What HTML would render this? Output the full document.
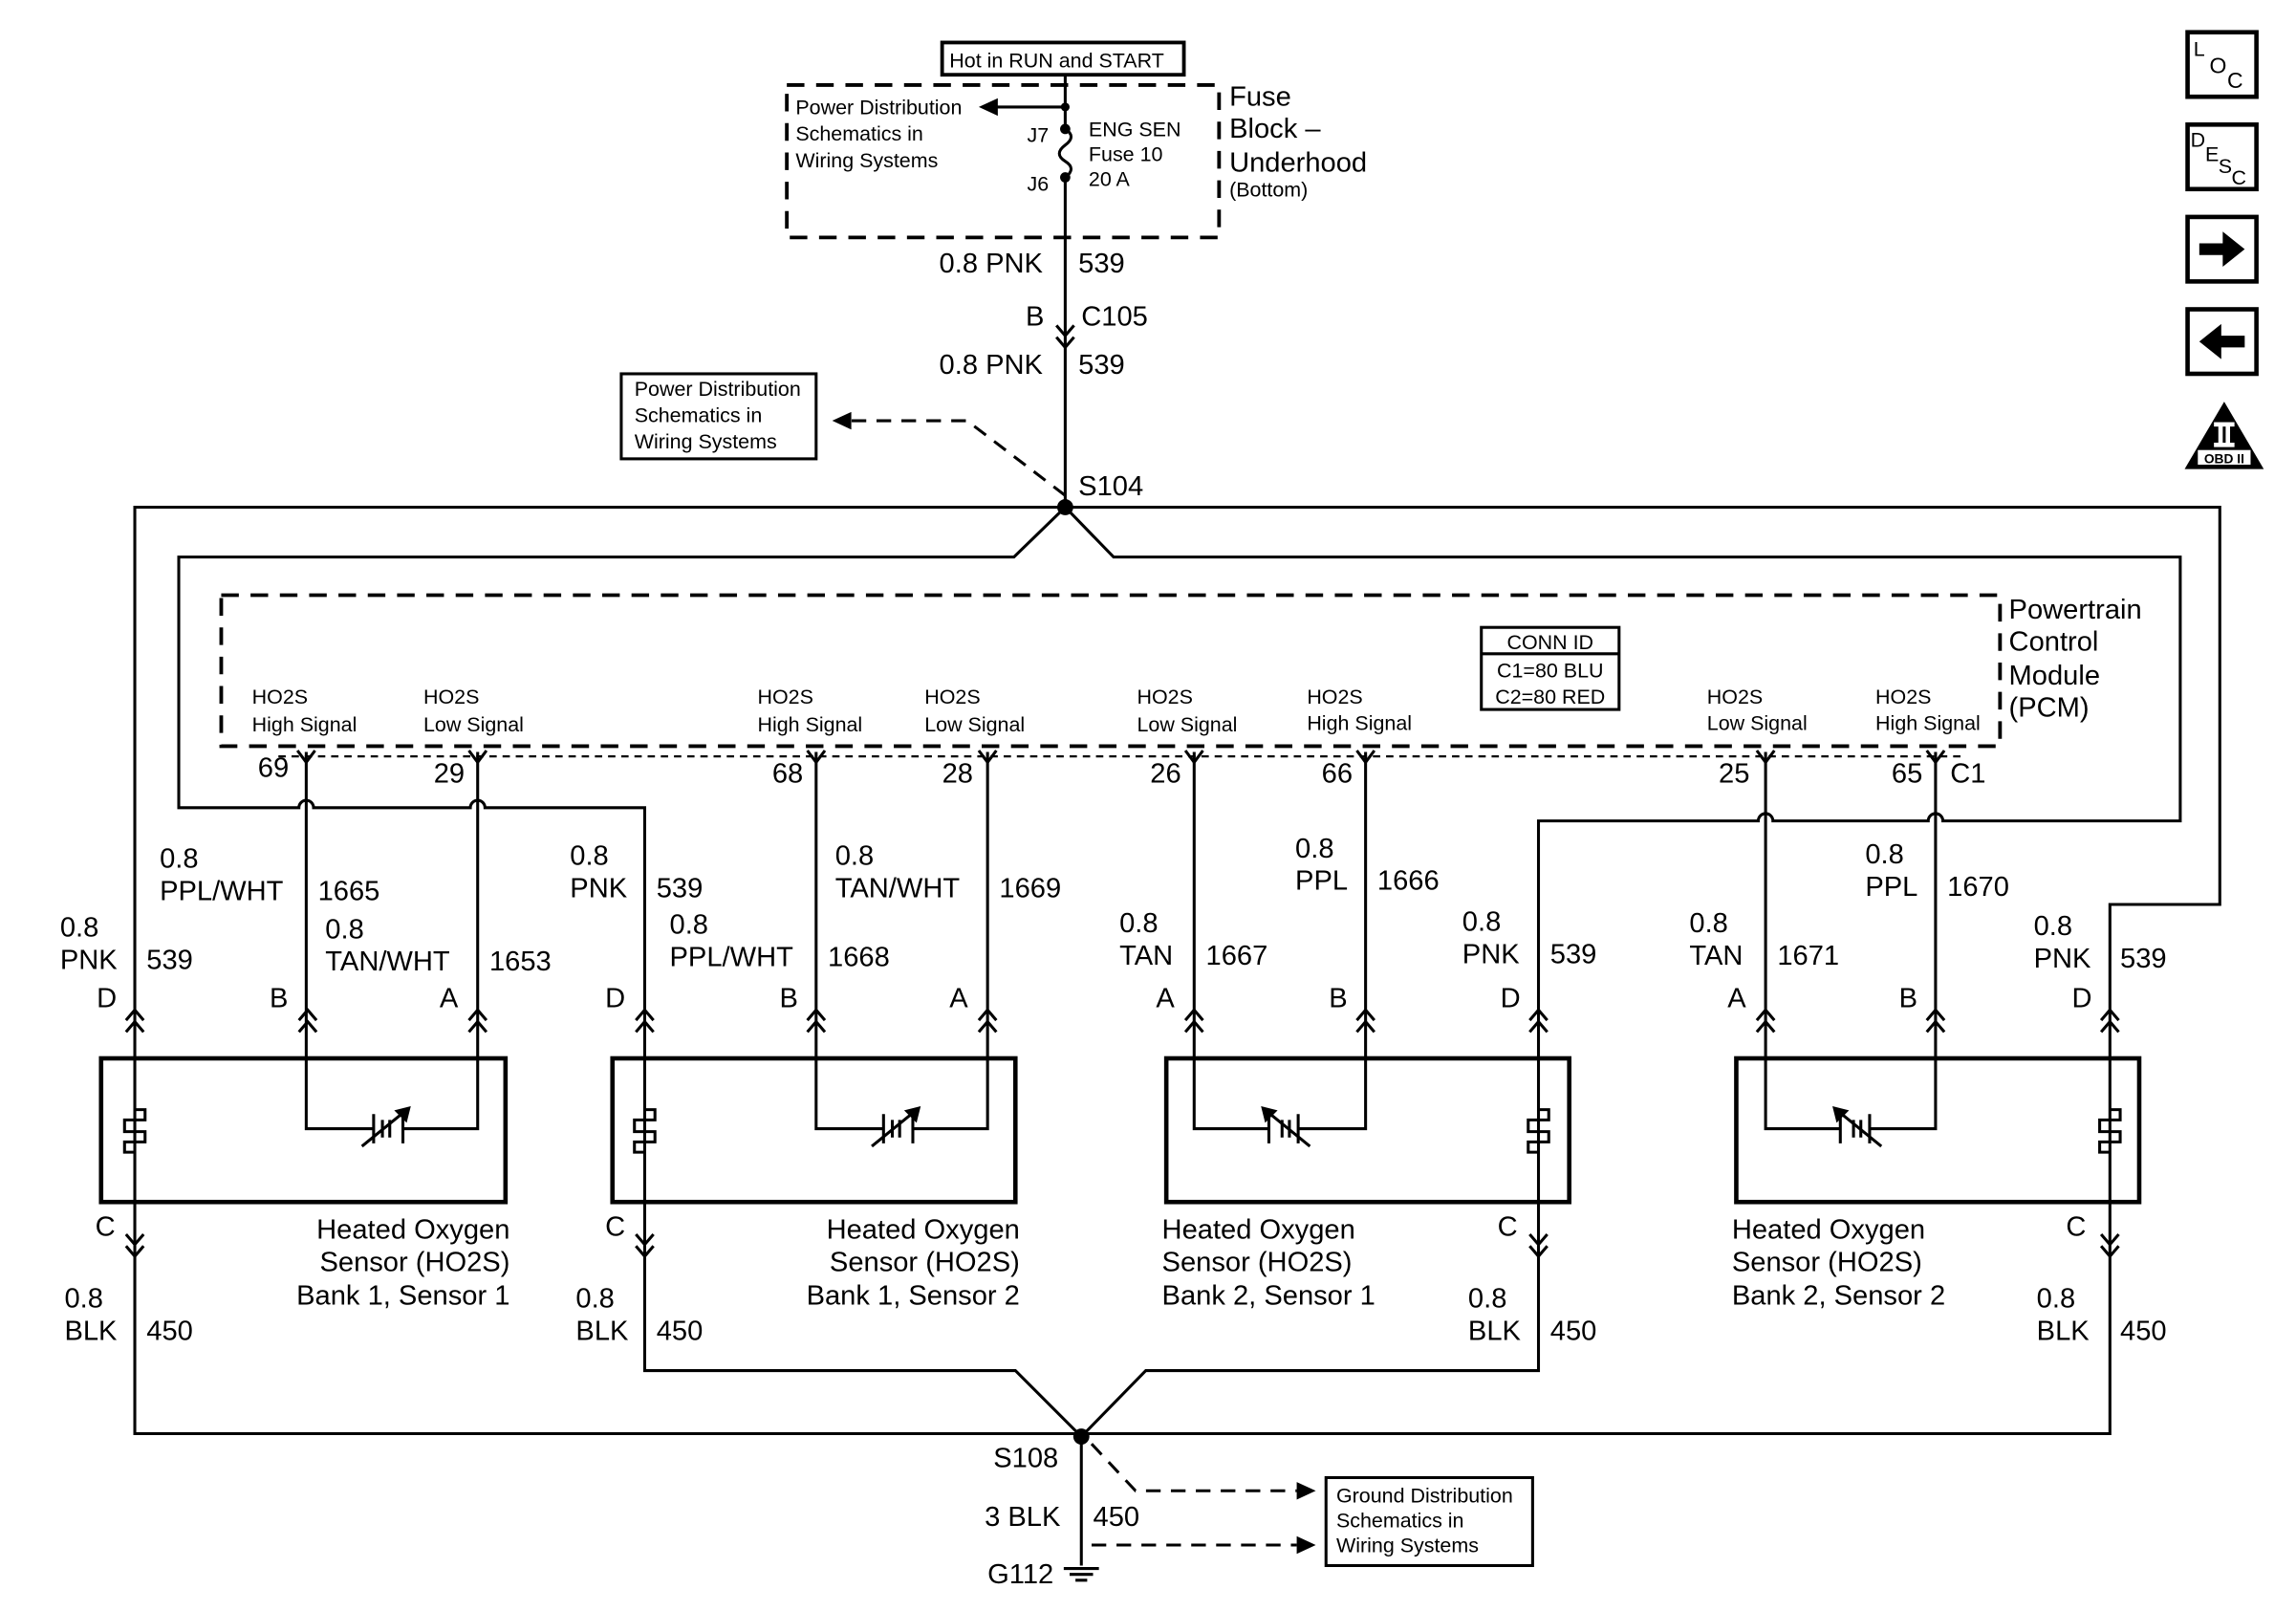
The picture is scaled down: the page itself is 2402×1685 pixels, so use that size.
<!DOCTYPE html>
<html><head><meta charset="utf-8"><style>
html,body{margin:0;padding:0;background:#fff}
svg{display:block}
text{font-family:"Liberation Sans",Arial,sans-serif;fill:#000}
.b{font-size:19px}.s{font-size:14px}.m{font-size:15px}
</style></head><body>
<svg width="2402" height="1685" viewBox="0 0 1567 1099" preserveAspectRatio="none" xmlns="http://www.w3.org/2000/svg">
<g fill="none" stroke="#000" stroke-width="2">
<rect x="643" y="29" width="165" height="22" stroke-width="2.5"/>
<rect x="537" y="58" width="295" height="104" stroke-dasharray="12,8" stroke-width="2.5"/>
<path d="M727 51 V88 M727 121 V346"/>
<path d="M727 73 H680"/>
<path d="M727 338 L660 287 H578" stroke-dasharray="10,7"/>
<rect x="424" y="255" width="133" height="58"/>
<path d="M721 222 L727 229 L733 222 M721 230 L727 237 L733 230"/>
<path d="M727 346 H92 V848 M727 346 H1515 V617 H1440 V848"/>
<path d="M727 346 L692 380 H122 V551 H204 a5 5 0 0 1 10 0 H321 a5 5 0 0 1 10 0 H440 V848"/>
<path d="M727 346 L760 380 H1488 V560 H1326 a5 5 0 0 0 -10 0 H1210 a5 5 0 0 0 -10 0 H1050 V848"/>
<rect x="151" y="406" width="1214" height="103" stroke-dasharray="12,8" stroke-width="2.5"/>
<path d="M190 516 H1340" stroke-dasharray="5,4" stroke-width="1.5"/>
<rect x="1011" y="428" width="94" height="56"/>
<path d="M1011 446 H1105"/>
<path d="M209 513 V770 H255 M275 770 H326 V513"/>
<path d="M557 513 V770 H603 M623 770 H674 V513"/>
<path d="M815 513 V770 H866 M886 770 H932 V513"/>
<path d="M1205 513 V770 H1256 M1276 770 H1321 V513"/>
<path d="M203 512 L209 520 L215 512 M320 512 L326 520 L332 512 M551 512 L557 520 L563 512 M668 512 L674 520 L680 512 M809 512 L815 520 L821 512 M926 512 L932 520 L938 512 M1199 512 L1205 520 L1211 512 M1315 512 L1321 520 L1327 512"/>
<rect x="69" y="722" width="276" height="98" stroke-width="3"/>
<rect x="418" y="722" width="275" height="98" stroke-width="3"/>
<rect x="796" y="722" width="275" height="98" stroke-width="3"/>
<rect x="1185" y="722" width="275" height="98" stroke-width="3"/>
<path d="M92 848 V978 H1440 V848"/>
<path d="M440 848 V935 H693 L738 980 L782 935 H1050 V848"/>
<path d="M738 980 V1068"/>
<path d="M726 1070 H750 M730 1074 H746 M734 1078 H742"/>
<path d="M745 985 L775 1017 H885 M745 1054 H885" stroke-dasharray="10,7"/>
<rect x="905" y="1008" width="141" height="60"/>
<rect x="1493" y="22" width="47" height="44" stroke-width="3"/>
<rect x="1493" y="85" width="47" height="44" stroke-width="3"/>
<rect x="1493" y="148" width="47" height="44" stroke-width="3"/>
<rect x="1493" y="211" width="47" height="44" stroke-width="3"/>
</g>
<path d="M727 88 q8 5 0 11 q-8 6 0 11 q8 5 0 11" fill="none" stroke="#000" stroke-width="2"/>
<g fill="#000">
<circle cx="727" cy="73" r="3"/><circle cx="727" cy="88" r="3.5"/><circle cx="727" cy="121" r="3.5"/>
<circle cx="727" cy="346" r="5.5"/><circle cx="738" cy="980" r="5.5"/>
<path d="M668 73 L681 67 L681 79 Z"/>
<path d="M568 287 L581 281 L581 293 Z"/>
<path d="M898 1017 L885 1011 L885 1023 Z M898 1054 L885 1048 L885 1060 Z"/>
<path d="M1501 166 H1517 V158 L1532 170 L1517 182 V174 H1501 Z"/>
<path d="M1532 229 H1516 V221 L1501 233 L1516 245 V237 H1532 Z"/>
<path d="M1518 274 L1545 320 H1491 Z"/>
</g>
<g fill="#fff"><rect x="1511" y="288" width="14" height="3"/><rect x="1511" y="302" width="14" height="3"/><rect x="1514" y="290" width="3" height="13"/><rect x="1519" y="290" width="3" height="13"/><rect x="1500" y="307" width="36" height="10"/></g>
<text x="1518" y="316" font-size="9" text-anchor="middle" font-weight="bold">OBD II</text>
<g fill="none" stroke="#000" stroke-width="2">
<path id="u" d="M-6 696 L0 689 L6 696 M-6 704 L0 697 L6 704" transform="translate(92,0)"/>
<use href="#u" transform="translate(118,0)"/><use href="#u" transform="translate(234,0)"/>
<use href="#u" transform="translate(348,0)"/><use href="#u" transform="translate(465,0)"/><use href="#u" transform="translate(582,0)"/>
<use href="#u" transform="translate(723,0)"/><use href="#u" transform="translate(840,0)"/><use href="#u" transform="translate(958,0)"/>
<use href="#u" transform="translate(1113,0)"/><use href="#u" transform="translate(1229,0)"/><use href="#u" transform="translate(1348,0)"/>
<path id="d" d="M-6 842 L0 849 L6 842 M-6 850 L0 857 L6 850" transform="translate(92,0)"/>
<use href="#d" transform="translate(348,0)"/><use href="#d" transform="translate(958,0)"/><use href="#d" transform="translate(1348,0)"/>
<g id="h" transform="translate(92,0)"><path d="M0 757 H7 V764 H-7 V772 H7 V779 H-7 V786 H0"/></g>
<use href="#h" transform="translate(348,0)"/><use href="#h" transform="translate(958,0)"/><use href="#h" transform="translate(1348,0)"/>
<g id="e" transform="translate(265,770)"><path d="M-10 -10 V10 M10 -10 V10 M-4 -6 V6 M1 -6 V6"/><path d="M-18 12 L14 -14"/><path d="M14 -14 L6 -12 L12 -6 Z" fill="#000"/></g>
<use href="#e" transform="translate(348,0)"/>
<g transform="translate(876,770) scale(-1,1)"><path d="M-10 -10 V10 M10 -10 V10 M-4 -6 V6 M1 -6 V6"/><path d="M-18 12 L14 -14"/><path d="M14 -14 L6 -12 L12 -6 Z" fill="#000"/></g>
<g transform="translate(1266,770) scale(-1,1)"><path d="M-10 -10 V10 M10 -10 V10 M-4 -6 V6 M1 -6 V6"/><path d="M-18 12 L14 -14"/><path d="M14 -14 L6 -12 L12 -6 Z" fill="#000"/></g>
</g>
<text x="648" y="46" class="s">Hot in RUN and START</text>
<text x="543" y="78" class="s">Power Distribution</text><text x="543" y="96" class="s">Schematics in</text><text x="543" y="114" class="s">Wiring Systems</text>
<text x="701" y="97" class="s">J7</text><text x="701" y="130" class="s">J6</text>
<text x="743" y="93" class="s">ENG SEN</text><text x="743" y="110" class="s">Fuse 10</text><text x="743" y="127" class="s">20 A</text>
<text x="839" y="72" class="b">Fuse</text><text x="839" y="94" class="b">Block –</text><text x="839" y="117" class="b">Underhood</text><text x="839" y="134" class="s">(Bottom)</text>
<text x="641" y="186" class="b">0.8 PNK</text><text x="736" y="186" class="b">539</text>
<text x="700" y="222" class="b">B</text><text x="738" y="222" class="b">C105</text>
<text x="641" y="255" class="b">0.8 PNK</text><text x="736" y="255" class="b">539</text>
<text x="433" y="270" class="s">Power Distribution</text><text x="433" y="288" class="s">Schematics in</text><text x="433" y="306" class="s">Wiring Systems</text>
<text x="736" y="338" class="b">S104</text>
<text x="1371" y="422" class="b">Powertrain</text><text x="1371" y="444" class="b">Control</text><text x="1371" y="467" class="b">Module</text><text x="1371" y="489" class="b">(PCM)</text>
<text x="1058" y="443" class="s" text-anchor="middle">CONN ID</text><text x="1058" y="462" class="s" text-anchor="middle">C1=80 BLU</text><text x="1058" y="480" class="s" text-anchor="middle">C2=80 RED</text>
<g class="s">
<text x="172" y="480">HO2S</text><text x="172" y="499">High Signal</text>
<text x="289" y="480">HO2S</text><text x="289" y="499">Low Signal</text>
<text x="517" y="480">HO2S</text><text x="517" y="499">High Signal</text>
<text x="631" y="480">HO2S</text><text x="631" y="499">Low Signal</text>
<text x="776" y="480">HO2S</text><text x="776" y="499">Low Signal</text>
<text x="892" y="480">HO2S</text><text x="892" y="498">High Signal</text>
<text x="1165" y="480">HO2S</text><text x="1165" y="498">Low Signal</text>
<text x="1280" y="480">HO2S</text><text x="1280" y="498">High Signal</text>
</g>
<g class="b">
<text x="176" y="530">69</text><text x="296" y="534">29</text><text x="527" y="534">68</text><text x="643" y="534">28</text><text x="785" y="534">26</text><text x="902" y="534">66</text><text x="1173" y="534">25</text><text x="1291" y="534">65</text><text x="1331" y="534">C1</text>
<text x="109" y="592">0.8</text><text x="109" y="614">PPL/WHT</text><text x="217" y="614">1665</text>
<text x="222" y="640">0.8</text><text x="222" y="662">TAN/WHT</text><text x="334" y="662">1653</text>
<text x="41" y="639">0.8</text><text x="41" y="661">PNK</text><text x="100" y="661">539</text>
<text x="66" y="687">D</text><text x="184" y="687">B</text><text x="300" y="687">A</text>
<text x="389" y="590">0.8</text><text x="389" y="612">PNK</text><text x="448" y="612">539</text>
<text x="570" y="590">0.8</text><text x="570" y="612">TAN/WHT</text><text x="682" y="612">1669</text>
<text x="457" y="637">0.8</text><text x="457" y="659">PPL/WHT</text><text x="565" y="659">1668</text>
<text x="413" y="687">D</text><text x="532" y="687">B</text><text x="648" y="687">A</text>
<text x="884" y="585">0.8</text><text x="884" y="607">PPL</text><text x="940" y="607">1666</text>
<text x="764" y="636">0.8</text><text x="764" y="658">TAN</text><text x="823" y="658">1667</text>
<text x="998" y="635">0.8</text><text x="998" y="657">PNK</text><text x="1058" y="657">539</text>
<text x="789" y="687">A</text><text x="907" y="687">B</text><text x="1024" y="687">D</text>
<text x="1273" y="589">0.8</text><text x="1273" y="611">PPL</text><text x="1329" y="611">1670</text>
<text x="1153" y="636">0.8</text><text x="1153" y="658">TAN</text><text x="1213" y="658">1671</text>
<text x="1388" y="638">0.8</text><text x="1388" y="660">PNK</text><text x="1447" y="660">539</text>
<text x="1179" y="687">A</text><text x="1296" y="687">B</text><text x="1414" y="687">D</text>
<text x="65" y="843">C</text><text x="413" y="843">C</text><text x="1022" y="843">C</text><text x="1410" y="843">C</text>
<text x="348" y="845" text-anchor="end">Heated Oxygen</text><text x="348" y="867" text-anchor="end">Sensor (HO2S)</text><text x="348" y="890" text-anchor="end">Bank 1, Sensor 1</text>
<text x="696" y="845" text-anchor="end">Heated Oxygen</text><text x="696" y="867" text-anchor="end">Sensor (HO2S)</text><text x="696" y="890" text-anchor="end">Bank 1, Sensor 2</text>
<text x="793" y="845">Heated Oxygen</text><text x="793" y="867">Sensor (HO2S)</text><text x="793" y="890">Bank 2, Sensor 1</text>
<text x="1182" y="845">Heated Oxygen</text><text x="1182" y="867">Sensor (HO2S)</text><text x="1182" y="890">Bank 2, Sensor 2</text>
<text x="44" y="892">0.8</text><text x="44" y="914">BLK</text><text x="100" y="914">450</text>
<text x="393" y="892">0.8</text><text x="393" y="914">BLK</text><text x="448" y="914">450</text>
<text x="1002" y="892">0.8</text><text x="1002" y="914">BLK</text><text x="1058" y="914">450</text>
<text x="1390" y="892">0.8</text><text x="1390" y="914">BLK</text><text x="1447" y="914">450</text>
<text x="678" y="1001">S108</text>
<text x="672" y="1041">3 BLK</text><text x="746" y="1041">450</text>
<text x="674" y="1080">G112</text>
</g>
<text x="912" y="1025" class="s">Ground Distribution</text><text x="912" y="1042" class="s">Schematics in</text><text x="912" y="1059" class="s">Wiring Systems</text>
<text x="1497" y="38" font-size="14">L</text><text x="1508" y="50" font-size="15">O</text><text x="1520" y="60" font-size="15">C</text>
<text x="1495" y="100" font-size="14">D</text><text x="1505" y="110" font-size="14">E</text><text x="1514" y="118" font-size="14">S</text><text x="1523" y="126" font-size="14">C</text>
</svg>
</body></html>
